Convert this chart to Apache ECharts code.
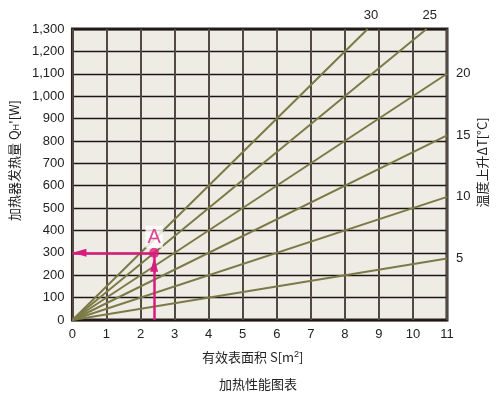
<!DOCTYPE html>
<html><head><meta charset="utf-8">
<script src="https://cdn.jsdelivr.net/npm/echarts@6/dist/echarts.min.js"></script>
<style>html,body{margin:0;padding:0;background:#fff}#c{width:500px;height:395px}</style>
</head><body><div id="c"></div>
<script>
// ΔT lines (°C) and where each line leaves the plot (S, QH')
const deltaT = [5, 10, 15, 20, 25, 30];
const endS   = [11, 11, 11, 11, 10.4, 8.67];
const endQ   = [275, 550, 825, 1100, 1300, 1300];
// point A
const pointA = [2.4, 300];
const xTicks = [0,1,2,3,4,5,6,7,8,9,10,11];

const FONT = "'Liberation Sans','Noto Sans CJK SC',sans-serif";
const CJK = "'Noto Sans CJK SC','Liberation Sans',sans-serif";
const OLIVE = '#7b7a47';
const MAG = '#d81b7c';
const chart = echarts.init(document.getElementById('c'));

const lineSeries = deltaT.map((t, i) => ({
  type: 'line', name: String(t),
  data: [[0, 0], [endS[i], endQ[i]]],
  symbol: 'none', silent: true,
  lineStyle: { color: OLIVE, width: 2 },
  endLabel: {
    show: true, formatter: '{a}', color: '#222', fontSize: 13, fontFamily: FONT,
    offset: endQ[i] >= 1300 ? [-12, -14] : [1, 0]
  },
  z: 3
}));

chart.setOption({
  animation: false,
  backgroundColor: '#fff',
  title: {
    text: '加热性能图表', left: 253, top: 373, textAlign: 'center',
    textStyle: { fontSize: 13, fontWeight: 'normal', color: '#222', fontFamily: CJK }
  },
  grid: {
    left: 72, right: 53, top: 29, bottom: 75,
    show: true, backgroundColor: '#efece5', borderColor: '#2b221d', borderWidth: 3
  },
  xAxis: {
    type: 'value', min: xTicks[0], max: xTicks[xTicks.length - 1], interval: 1,
    name: '有效表面积 S[m{sup|2}]', nameLocation: 'middle', nameGap: 30,
    nameTextStyle: { fontSize: 13, color: '#222', fontFamily: CJK, padding: [0, 14, 0, 0],
      rich: { sup: { fontSize: 9, verticalAlign: 'top', padding: [0, 0, 6, 0], fontFamily: FONT, color: '#222' } } },
    axisLine: { show: false },
    axisTick: { show: false },
    axisLabel: { color: '#222', fontSize: 13, fontFamily: FONT, margin: 8 },
    splitLine: { show: true, lineStyle: { color: '#514a44', width: 2 } }
  },
  yAxis: [{
    type: 'value', min: 0, max: 1300, interval: 100,
    name: '加热器发热量 Q{sub|H}\'[W]', nameLocation: 'middle', nameGap: 46, nameRotate: 90,
    nameTextStyle: { fontSize: 13, color: '#222', fontFamily: CJK, padding: [0, 0, 0, 28],
      rich: { sub: { fontSize: 9, verticalAlign: 'bottom', fontFamily: FONT, color: '#222' } } },
    axisLine: { show: false },
    axisTick: { show: false },
    axisLabel: { color: '#222', fontSize: 13, fontFamily: FONT, margin: 8,
      formatter: v => v.toLocaleString('en-US') },
    splitLine: { show: true, lineStyle: { color: '#1c1712', width: 1.3 } }
  }, {
    type: 'value', min: 0, max: 1300, position: 'right',
    name: '温度上升ΔT[°C]', nameLocation: 'middle', nameGap: 29, nameRotate: 90,
    nameTextStyle: { fontSize: 13, color: '#222', fontFamily: CJK, padding: [0, 0, 0, 24] },
    axisLine: { show: false }, axisTick: { show: false },
    axisLabel: { show: false }, splitLine: { show: false }
  }],
  series: lineSeries.concat([{
    type: 'scatter', data: [pointA], symbolSize: 10, silent: true,
    itemStyle: { color: MAG },
    label: { show: true, formatter: 'A', position: 'top', distance: 0,
      color: MAG, fontSize: 20, fontFamily: FONT, backgroundColor: '#fff', padding: [2, 2, 0, 2] },
    markLine: {
      silent: true, symbol: ['none', 'triangle'], symbolSize: [8, 14],
      symbolOffset: [0, [0, 7]],
      label: { show: false },
      lineStyle: { color: MAG, width: 2.5, type: 'solid' },
      data: [
        [{ coord: [pointA[0], 0] }, { coord: pointA, symbolOffset: [0, 12] }],
        [{ coord: pointA }, { coord: [0, pointA[1]] }]
      ]
    },
    z: 5
  }])
});
</script></body></html>
